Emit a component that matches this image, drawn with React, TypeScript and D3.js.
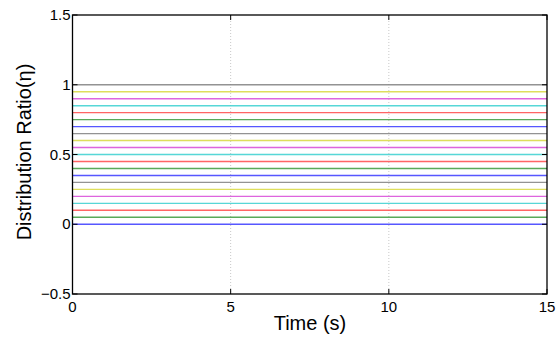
import React, { useEffect, useRef } from "react";
import * as d3 from "d3";

// levels of the horizontal lines (0 to 1, step 0.05)
const levels = [
  0, 0.05, 0.1, 0.15, 0.2, 0.25, 0.3, 0.35, 0.4, 0.45, 0.5,
  0.55, 0.6, 0.65, 0.7, 0.75, 0.8, 0.85, 0.9, 0.95, 1,
];
const timeRange = [0, 15];
const xTicks = [0, 5, 10, 15];
const yTicks = [-0.5, 0, 0.5, 1, 1.5];
const gridX = [5, 10];
// MATLAB default colour order b g r c m y k
const lineColors = ["#3a3aff", "#3c9a3c", "#ff4a4a", "#3ad0d0", "#d84ad8", "#d8d840", "#808080"];

const App: React.FC = () => {
  const svgRef = useRef<SVGSVGElement | null>(null);

  useEffect(() => {
    const svg = d3.select(svgRef.current);
    svg.selectAll("*").remove();

    const w = 558;
    const h = 337;
    const m = { top: 15, right: 11, bottom: 43, left: 72.5 };

    const x = d3.scaleLinear().domain(timeRange).range([m.left, w - m.right]);
    const y = d3.scaleLinear().domain([-0.5, 1.5]).range([h - m.bottom, m.top]);

    svg.attr("width", w).attr("height", h).style("background", "#fff");

    // vertical dotted grid
    svg.selectAll(".grid")
      .data(gridX)
      .enter()
      .append("line")
      .attr("x1", d => x(d))
      .attr("x2", d => x(d))
      .attr("y1", y(1.5))
      .attr("y2", y(-0.5))
      .attr("stroke", "#c8c8c8")
      .attr("stroke-width", 1)
      .attr("stroke-dasharray", "1,2");

    // horizontal lines
    svg.selectAll(".lvl")
      .data(levels)
      .enter()
      .append("line")
      .attr("x1", x(timeRange[0]))
      .attr("x2", x(timeRange[1]))
      .attr("y1", d => y(d))
      .attr("y2", d => y(d))
      .attr("stroke", (_, i) => lineColors[i % lineColors.length])
      .attr("stroke-opacity", 0.85)
      .attr("stroke-width", 1.4);

    const font = "Liberation Sans, Arial, sans-serif";

    // box
    svg.append("rect")
      .attr("x", x(0))
      .attr("y", y(1.5))
      .attr("width", x(15) - x(0))
      .attr("height", y(-0.5) - y(1.5))
      .attr("fill", "none")
      .attr("stroke", "#000")
      .attr("stroke-width", 1.3);

    // inward ticks
    const tl = 5;
    xTicks.forEach(t => {
      svg.append("line").attr("x1", x(t)).attr("x2", x(t))
        .attr("y1", y(-0.5)).attr("y2", y(-0.5) - tl).attr("stroke", "#000");
      svg.append("line").attr("x1", x(t)).attr("x2", x(t))
        .attr("y1", y(1.5)).attr("y2", y(1.5) + tl).attr("stroke", "#000");
    });
    yTicks.forEach(t => {
      svg.append("line").attr("x1", x(0)).attr("x2", x(0) + tl)
        .attr("y1", y(t)).attr("y2", y(t)).attr("stroke", "#000");
      svg.append("line").attr("x1", x(15)).attr("x2", x(15) - tl)
        .attr("y1", y(t)).attr("y2", y(t)).attr("stroke", "#000");
    });

    // tick labels
    svg.selectAll(".xt")
      .data(xTicks)
      .enter()
      .append("text")
      .attr("x", d => x(d))
      .attr("y", y(-0.5) + 18)
      .attr("text-anchor", "middle")
      .style("font-family", font)
      .style("font-size", "15px")
      .text(d => String(d));

    svg.selectAll(".yt")
      .data(yTicks)
      .enter()
      .append("text")
      .attr("x", x(0) - 2)
      .attr("y", d => y(d) + 5)
      .attr("text-anchor", "end")
      .style("font-family", font)
      .style("font-size", "15px")
      .text(d => (d < 0 ? "\u2212" + Math.abs(d) : String(d)));

    // axis titles
    svg.append("text")
      .attr("x", 310)
      .attr("y", 330)
      .attr("text-anchor", "middle")
      .style("font-family", font)
      .style("font-size", "20px")
      .text("Time (s)");

    svg.append("text")
      .attr("transform", `translate(31, 152) rotate(-90)`)
      .attr("text-anchor", "middle")
      .style("font-family", font)
      .style("font-size", "20px")
      .text("Distribution Ratio(\u03b7)");
  }, []);

  return (
    <div style={{ position: "absolute", left: 0, top: 0 }}>
      <svg ref={svgRef}></svg>
    </div>
  );
};

export default App;
